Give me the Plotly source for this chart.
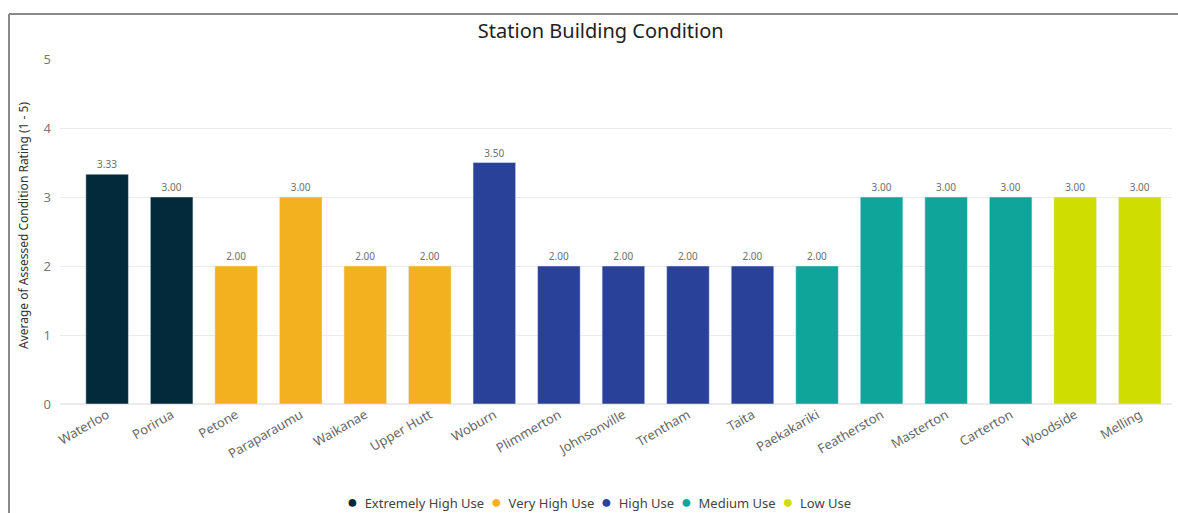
import plotly.graph_objects as go

stations = ["Waterloo", "Porirua", "Petone", "Paraparaumu", "Waikanae", "Upper Hutt",
            "Woburn", "Plimmerton", "Johnsonville", "Trentham", "Taita", "Paekakariki",
            "Featherston", "Masterton", "Carterton", "Woodside", "Melling"]
ratings = [3.33, 3.00, 2.00, 3.00, 2.00, 2.00, 3.50, 2.00, 2.00, 2.00, 2.00, 2.00,
           3.00, 3.00, 3.00, 3.00, 3.00]
usage = ["Extremely High Use", "Extremely High Use", "Very High Use", "Very High Use",
         "Very High Use", "Very High Use", "High Use", "High Use", "High Use", "High Use",
         "High Use", "Medium Use", "Medium Use", "Medium Use", "Medium Use", "Low Use", "Low Use"]
groups = ["Extremely High Use", "Very High Use", "High Use", "Medium Use", "Low Use"]
colors = {"Extremely High Use": "#032A3B", "Very High Use": "#F3B120",
          "High Use": "#2A4199", "Medium Use": "#0FA59A", "Low Use": "#CFDD00"}

FONT = "Noto Sans, Open Sans, sans-serif"
W, H = 1178, 513
L, R, T, B = 60, 6, 59, 109
PW, PH = W - L - R, H - T - B


def px_x(x):
    return (x - L) / PW


def px_y(y):
    return (H - B - y) / PH


fig = go.Figure()
for g in groups:
    xs = [s for s, u in zip(stations, usage) if u == g]
    ys = [r for r, u in zip(ratings, usage) if u == g]
    fig.add_trace(go.Bar(x=xs, y=ys, marker_color=colors[g], width=0.66,
                         texttemplate="%{y:.2f}", textposition="outside",
                         textfont=dict(size=10, color="#707070", family=FONT),
                         cliponaxis=False, showlegend=False, name=g))

fig.update_layout(
    width=W, height=H,
    margin=dict(l=L, r=R, t=T, b=B, autoexpand=False),
    paper_bgcolor="white", plot_bgcolor="white",
    barmode="overlay", showlegend=False,
    font=dict(family=FONT, color="#444444"),
    title=dict(text="Station Building Condition", x=0.51, xanchor="center",
               xref="container", yref="container", y=1 - 31 / H, yanchor="middle",
               font=dict(size=20, color="#222222", family=FONT)),
    xaxis=dict(categoryorder="array", categoryarray=stations, range=[-0.73, 16.5],
               tickangle=-30, tickfont=dict(size=13, color="#666666"),
               showgrid=False, showline=False, ticks="", automargin=False),
    yaxis=dict(range=[0, 5], dtick=1, tickfont=dict(size=13, color="#777777"),
               gridcolor="#EBEBEB", gridwidth=1, zeroline=True, zerolinecolor="#EBEBEB",
               ticks="", ticklabelstandoff=8, automargin=False),
)
# y-axis title
fig.add_annotation(xref="paper", yref="paper", x=px_x(23), y=px_y(226),
                   text="Average of Assessed Condition Rating (1 - 5)", textangle=-90,
                   showarrow=False, xanchor="center", yanchor="middle",
                   font=dict(size=12, color="#333333", family=FONT))
# legend as text
leg = "  ".join(f"<span style='color:{colors[g]};font-size:18px'>●</span>  {g}" for g in groups)
fig.add_annotation(xref="paper", yref="paper", x=px_x(599), y=px_y(501),
                   text=leg, showarrow=False, xanchor="center", yanchor="middle",
                   font=dict(size=13, color="#444444", family=FONT))
# frame lines (card border)
fig.add_shape(type="line", xref="paper", yref="paper", x0=px_x(9), x1=px_x(1190),
              y0=px_y(14), y1=px_y(14), line=dict(color="#8A8A8A", width=2))
fig.add_shape(type="line", xref="paper", yref="paper", x0=px_x(9), x1=px_x(9),
              y0=px_y(14), y1=px_y(530), line=dict(color="#8A8A8A", width=2))
fig.write_html("out.html", config={"displayModeBar": False},
               post_script="document.body.style.margin='0';document.body.style.overflow='hidden';")
